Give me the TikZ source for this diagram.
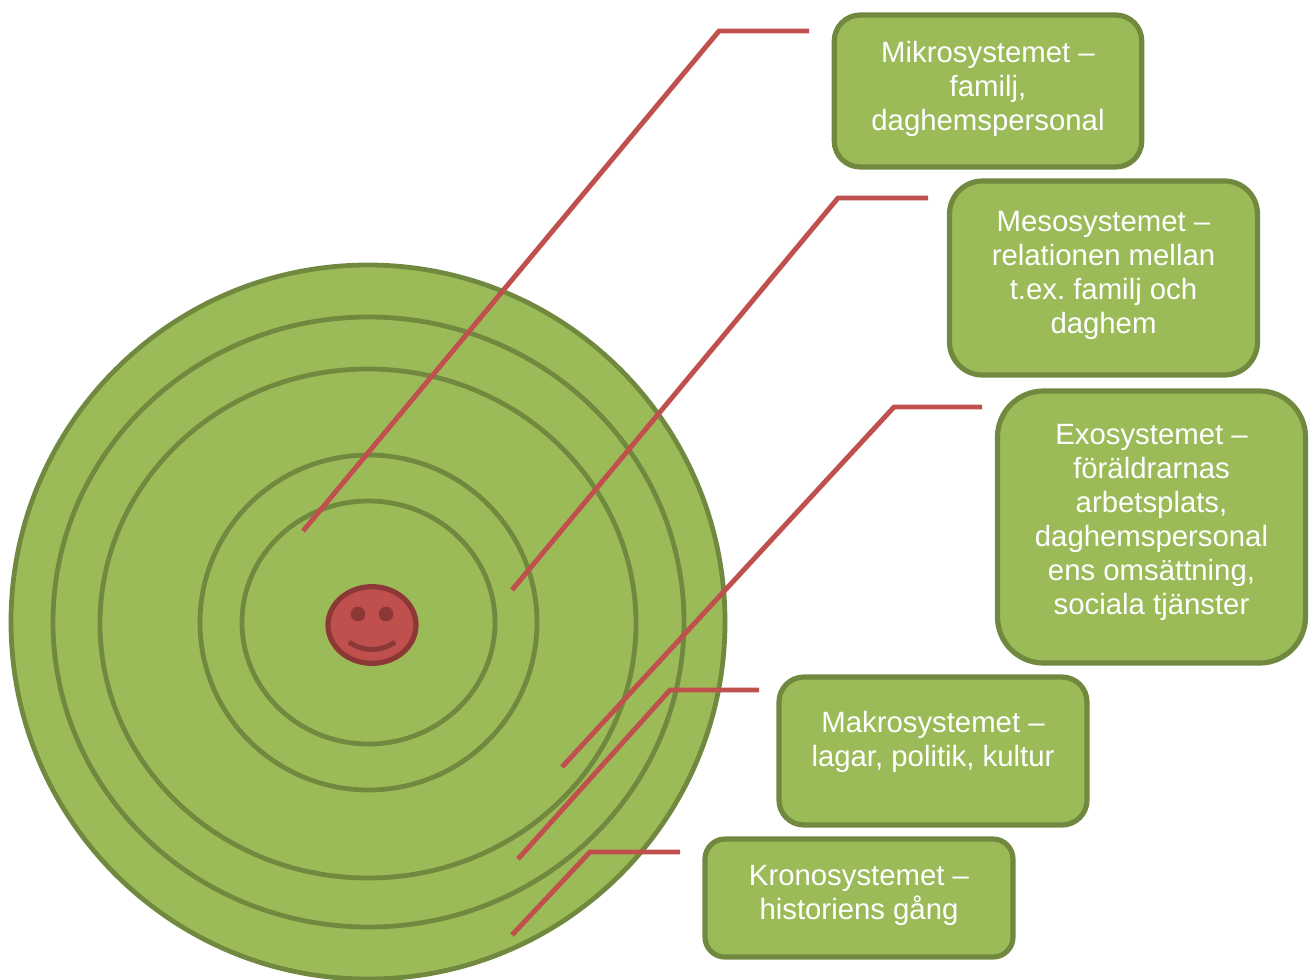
\documentclass[tikz,border=0pt]{standalone}
\usepackage{fontspec}
\setmainfont{Liberation Sans}
\usetikzlibrary{shapes.geometric}
\definecolor{grfill}{HTML}{9BBB59}
\definecolor{grline}{HTML}{71893F}
\definecolor{redfill}{HTML}{C0504D}
\definecolor{redline}{HTML}{8C3836}
\tikzset{
  ring/.style 2 args={ellipse,draw=grline,line width=3.6pt,fill=grfill,inner sep=0pt,outer sep=0pt,minimum width=#1*0.75pt,minimum height=#2*0.75pt},
  box/.style n args={5}{rectangle,draw=grline,line width=3.9pt,fill=grfill,inner sep=0pt,outer sep=0pt,rounded corners=#3*0.75pt,minimum width=#1*0.75pt,minimum height=#2*0.75pt,
    label={[boxtext,yshift=#4*0.75pt]center:#5}},
  boxtext/.style={text=white,font=\fontsize{22pt}{25.5pt}\selectfont,align=center,inner sep=0pt},
  leader/.style={draw=redfill,line width=3.7pt,line join=miter},
  eye/.style={circle,fill=redline,draw=redline,inner sep=0pt,minimum size=10.5pt},
}
\begin{document}
\frenchspacing
\begin{tikzpicture}[x=0.75pt,y=-0.75pt]
\useasboundingbox (0,0) rectangle (1313,979);
% rings
\node[ring={714}{714}] (r1) at (368,622) {};
\node[ring={631}{610}] (r2) at (368.5,622) {};
\node[ring={536}{509}] (r3) at (368,623.5) {};
\node[ring={337}{335}] (r4) at (368.5,622.5) {};
\node[ring={253}{243}] (r5) at (368.5,622.5) {};
% smiley
\node[ellipse,draw=redline,line width=3.9pt,fill=redfill,inner sep=0pt,minimum width=66pt,minimum height=57.5pt] (face) at (372,625) {};
\node[eye] (eyeL) at (358,614) {};
\node[eye] (eyeR) at (386,614) {};
\coordinate (mouthL) at (349,642);
\coordinate (mouthR) at (395,642);
\draw[redline,line width=3.7pt] (mouthL) .. controls (364,652) and (380,652) .. (mouthR);
% boxes
\node[box={307.5}{152}{26}{2}{Mikrosystemet –\\familj,\\daghemspersonal}] (mikro) at (988,91) {};
\node[box={308}{194}{33}{3}{Mesosystemet –\\relationen mellan\\t.ex. familj och\\daghem}] (meso) at (1103.5,278) {};
\node[box={308}{272}{46}{5}{Exosystemet –\\föräldrarnas\\arbetsplats,\\daghemspersonal\\ens omsättning,\\sociala tjänster}] (exo) at (1151.5,527) {};
\node[box={308}{148}{25}{9}{Makrosystemet –\\lagar, politik, kultur}] (makro) at (933,751) {};
\node[box={308}{118}{20}{3}{Kronosystemet –\\historiens gång}] (krono) at (859,898) {};
% leaders
\coordinate (a1) at (809,31); \coordinate (b1) at (719,31); \coordinate (c1) at (303,531);
\coordinate (a2) at (928,198); \coordinate (b2) at (838,198); \coordinate (c2) at (512,590);
\coordinate (a3) at (982,407); \coordinate (b3) at (894,407); \coordinate (c3) at (562,767);
\coordinate (a4) at (759,690); \coordinate (b4) at (670,690); \coordinate (c4) at (518,859);
\coordinate (a5) at (680,852); \coordinate (b5) at (590,852); \coordinate (c5) at (512,935);
\draw[leader] (a1) -- (b1) -- (c1);
\draw[leader] (a2) -- (b2) -- (c2);
\draw[leader] (a3) -- (b3) -- (c3);
\draw[leader] (a4) -- (b4) -- (c4);
\draw[leader] (a5) -- (b5) -- (c5);
\end{tikzpicture}
\end{document}
